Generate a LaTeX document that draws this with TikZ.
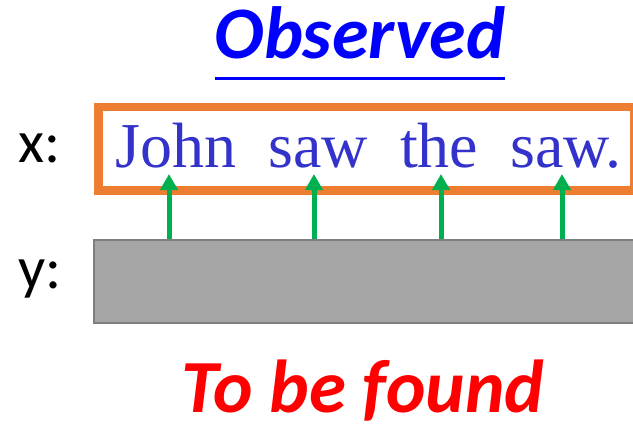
\documentclass[tikz,border=0pt]{standalone}
\usepackage{fontspec}
\setmainfont{Liberation Serif}
\setsansfont{Carlito}
\usetikzlibrary{arrows.meta}
\definecolor{obsorange}{HTML}{ED7D31}
\definecolor{wordblue}{HTML}{3333CC}
\definecolor{arrgreen}{HTML}{00B050}
\definecolor{boxgray}{HTML}{A5A5A5}
\definecolor{boxedge}{HTML}{7F7F7F}
\tikzset{
  word/.style={anchor=base west, inner sep=0pt, text=wordblue, font=\rmfamily\fontsize{64}{64}\selectfont},
  lab/.style={anchor=base west, inner sep=0pt, font=\sffamily\fontsize{60}{60}\selectfont},
  headline/.style={anchor=base, inner sep=0pt, font=\sffamily\bfseries\itshape\fontsize{74}{74}\selectfont},
  garrow/.style={draw=arrgreen, line width=5pt, -{Triangle[width=17pt,length=16pt]}},
}
\begin{document}
\begin{tikzpicture}[x=1pt,y=-1pt]
\useasboundingbox (0,0) rectangle (633,426);
\clip (0,0) rectangle (633,426);
% title
\node[headline, text=blue] (obs) at (360,58) {Observed};
\draw[blue, line width=3pt] ([yshift=-20pt]obs.base west) -- ([yshift=-20pt]obs.base east);
% labels
\node[lab] (xl) at (18,162) {x:};
\node[lab] (yl) at (18,288) {y:};
% observed box
\node[draw=obsorange, line width=8.5pt, fill=white, anchor=north west, inner sep=0pt,
      minimum width=536pt, minimum height=83.5pt] (xbox) at (94,102.5) {};
% hidden box
\node[draw=boxedge, fill=boxgray, line width=2pt, anchor=north west, inner sep=0pt,
      minimum width=560pt, minimum height=83pt] (ybox) at (93,239) {};
% words
\node[word] (w1) at (115,167) {John};
\node[word] (w2) at (268,167) {saw};
\node[word] (w3) at (400,167) {the};
\node[word] (w4) at (510,167) {saw.};
% arrow tips
\coordinate (t1) at (169,174);
\coordinate (t2) at (314,174);
\coordinate (t3) at (441,174);
\coordinate (t4) at (562,174);
\draw[garrow] (ybox.north -| t1) -- (t1);
\draw[garrow] (ybox.north -| t2) -- (t2);
\draw[garrow] (ybox.north -| t3) -- (t3);
\draw[garrow] (ybox.north -| t4) -- (t4);
% bottom text
\node[headline, text=red, text depth=0pt, font=\sffamily\bfseries\itshape\fontsize{75}{75}\selectfont] (tbf) at (363,412) {To be found};
\end{tikzpicture}
\end{document}
